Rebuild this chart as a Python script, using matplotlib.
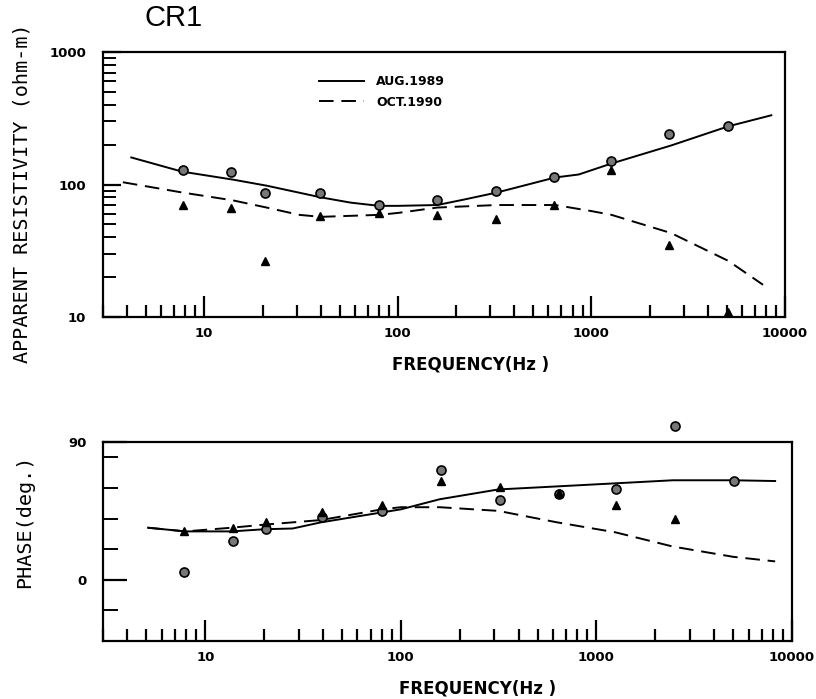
import matplotlib
matplotlib.use("Agg")
import matplotlib.pyplot as plt
import numpy as np
from matplotlib.ticker import LogLocator, FixedLocator, NullFormatter, FixedFormatter

# ---------------- data ----------------
freq_pts = [7.8, 13.8, 20.5, 39.5, 80, 160, 320, 640, 1260, 2520, 5050]

rho_aug = [128, 125, 87, 87, 70, 77, 90, 113, 150, 240, 275]
rho_oct = [70, 66, 26.5, 58, 61, 59, 55, 70, 128, 35, 11]

phase_aug = [5.3, 25, 33, 41, 45, 72, 52, 56, 59, 100.6, 64.5]
phase_oct = [32, 34, 37.5, 44, 48.7, 64.5, 60.5, 57, 48.7, 39.5, np.nan]

rho_curve_aug_f = [4.2, 7.7, 14, 21, 40, 57, 80, 100, 160, 220, 325, 650, 860, 1270, 2580, 5100, 8500]
rho_curve_aug = [160, 125, 109, 98, 80, 73, 69, 69, 70, 77, 87, 113, 119, 144, 197, 275, 333]

rho_curve_oct_f = [3.8, 7.7, 14, 21, 31, 40, 80, 100, 160, 325, 650, 1000, 1270, 2580, 5100, 7700]
rho_curve_oct = [104, 87, 76, 67, 59, 57, 59, 61, 67, 70, 70, 63, 59, 43, 26.5, 17.5]

ph_curve_aug_f = [5.1, 7.9, 13.6, 20, 28, 39, 80, 100, 158, 315, 630, 1250, 2460, 5000, 8200]
ph_curve_aug = [34, 31.6, 31.6, 33, 33.5, 37.5, 44, 46, 52.6, 59, 61, 63, 65, 65, 64.5]

ph_curve_oct_f = [5.1, 7.9, 13.6, 20, 39, 80, 100, 158, 315, 630, 1250, 2460, 5000, 8200]
ph_curve_oct = [34, 31.6, 34, 36, 39, 46, 47.4, 47.4, 45, 37.5, 31, 21.7, 15, 12]

legend_labels = ["AUG.1989", "OCT.1990"]
x_tick_vals = [10, 100, 1000, 10000]
x_tick_labels = ["10", "100", "1000", "10000"]

# ---------------- figure ----------------
W, H = 816, 699
fig = plt.figure(figsize=(W / 100, H / 100), dpi=100)


def rect(l, t, r, b):
    return [l / W, 1 - b / H, (r - l) / W, (b - t) / H]


tick_font = dict(family="DejaVu Sans", weight="bold", size=9.5)
dash = (0, (7.5, 4))

# ===== top panel =====
ax1 = fig.add_axes(rect(103, 52, 785, 317))
ax1.set_xscale("log")
ax1.set_yscale("log")
ax1.set_xlim(3, 10000)
ax1.set_ylim(10, 1000)

ax1.plot(rho_curve_aug_f, rho_curve_aug, color="black", lw=1.4, label=legend_labels[0])
ax1.plot(rho_curve_oct_f, rho_curve_oct, color="black", lw=1.4, ls=dash, label=legend_labels[1])
ax1.plot(freq_pts, rho_aug, ls="none", marker="o", ms=6.5, mfc="#777777", mec="black", mew=1.2)
ax1.plot(freq_pts, rho_oct, ls="none", marker="^", ms=5.5, mfc="black", mec="black", clip_on=False)

# ===== bottom panel =====
ax2 = fig.add_axes(rect(103, 442, 792, 641))
ax2.set_xscale("log")
ax2.set_xlim(3, 10000)
ax2.set_ylim(-40, 90)

ax2.plot(ph_curve_aug_f, ph_curve_aug, color="black", lw=1.4)
ax2.plot(ph_curve_oct_f, ph_curve_oct, color="black", lw=1.4, ls=dash)
ax2.plot(freq_pts, phase_aug, ls="none", marker="o", ms=6.5, mfc="#777777", mec="black", mew=1.2, clip_on=False)
ax2.plot(freq_pts, phase_oct, ls="none", marker="^", ms=5.5, mfc="black", mec="black")

for ax in (ax1, ax2):
    for s in ax.spines.values():
        s.set_linewidth(1.6)
    ax.xaxis.set_major_locator(FixedLocator(x_tick_vals))
    ax.xaxis.set_major_formatter(FixedFormatter(x_tick_labels))
    ax.xaxis.set_minor_locator(LogLocator(base=10, subs=np.arange(2, 10), numticks=20))
    ax.xaxis.set_minor_formatter(NullFormatter())
    ax.tick_params(axis="x", which="major", direction="in", length=15, width=1.6, pad=7)
    ax.tick_params(axis="x", which="minor", direction="in", length=9, width=1.6)
    ax.tick_params(top=False, right=False, which="both")
    for lab in ax.get_xticklabels():
        lab.set(**tick_font)

# top y ticks
ax1.yaxis.set_major_locator(FixedLocator([10, 100, 1000]))
ax1.yaxis.set_major_formatter(FixedFormatter(["10", "100", "1000"]))
ax1.yaxis.set_minor_locator(LogLocator(base=10, subs=np.arange(2, 10), numticks=20))
ax1.yaxis.set_minor_formatter(NullFormatter())
ax1.tick_params(axis="y", which="major", direction="in", length=13, width=1.6, pad=12)
ax1.tick_params(axis="y", which="minor", direction="in", length=9, width=1.4)
for lab in ax1.get_yticklabels():
    lab.set(**tick_font)

# bottom y ticks
ax2.yaxis.set_major_locator(FixedLocator([0, 90]))
ax2.yaxis.set_major_formatter(FixedFormatter(["0", "90"]))
ax2.yaxis.set_minor_locator(FixedLocator([-20, 20, 40, 60, 80]))
ax2.yaxis.set_minor_formatter(NullFormatter())
ax2.tick_params(axis="y", which="major", direction="in", length=17, width=1.6, pad=12)
ax2.tick_params(axis="y", which="minor", direction="in", length=11, width=1.4)
for lab in ax2.get_yticklabels():
    lab.set(**tick_font)

# legend
leg = ax1.legend(loc="upper left", bbox_to_anchor=(0.30, 0.955), frameon=False,
                 handlelength=3.6, handletextpad=1.0, labelspacing=0.6,
                 prop=dict(family="DejaVu Sans", weight="bold", size=9))

# labels
fig.text(145 / W, 1 - 18 / H, "CR1", fontsize=21, family="Liberation Sans", va="center", ha="left")
fig.text(22 / W, 1 - 193 / H, "APPARENT RESISTIVITY (ohm-m)", rotation=90, va="center", ha="center",
         family="DejaVu Sans Mono", fontsize=14.5)
fig.text(25 / W, 1 - 521 / H, "PHASE(deg.)", rotation=90, va="center", ha="center",
         family="DejaVu Sans Mono", fontsize=14.5)
fig.text(471 / W, 1 - 365 / H, "FREQUENCY(Hz )", va="center", ha="center",
         family="DejaVu Sans", weight="bold", fontsize=12)
fig.text(478 / W, 1 - 688 / H, "FREQUENCY(Hz )", va="center", ha="center",
         family="DejaVu Sans", weight="bold", fontsize=12)

fig.savefig("out.png", dpi=100)
